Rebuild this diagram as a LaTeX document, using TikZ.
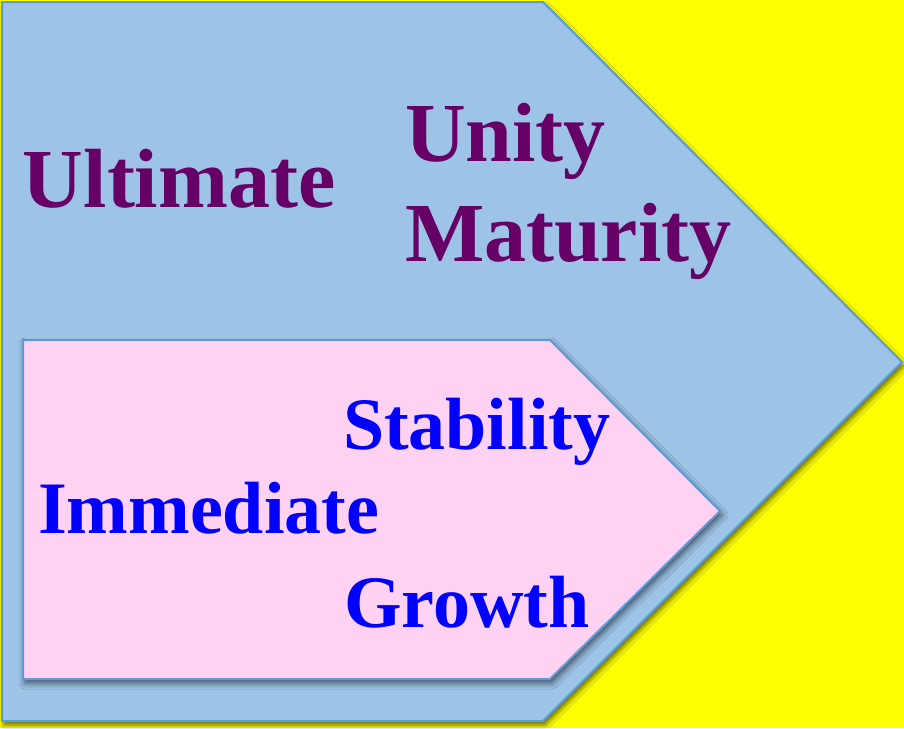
\documentclass[tikz,border=0pt]{standalone}
\usepackage{fontspec}
\setmainfont{Liberation Serif}
\usetikzlibrary{shadows.blur}
\definecolor{bgyellow}{HTML}{FFFF00}
\definecolor{outerfill}{HTML}{9DC3E6}
\definecolor{outerline}{HTML}{5B9BD5}
\definecolor{innerfill}{HTML}{FFD1F2}
\definecolor{innerline}{HTML}{5B9BD5}
\definecolor{purpletext}{HTML}{660066}
\definecolor{bluetext}{HTML}{0000FF}
\tikzset{
  outershape/.style={fill=outerfill, draw=outerline, line width=2pt, line join=miter,
    blur shadow={shadow xshift=2pt, shadow yshift=-4pt, shadow blur radius=5pt, shadow opacity=60}},
  innershape/.style={fill=innerfill, draw=innerline, line width=2pt, line join=miter,
    blur shadow={shadow xshift=2pt, shadow yshift=-4pt, shadow blur radius=6pt, shadow opacity=60}},
  bigword/.style={anchor=base west, inner sep=0pt, outer sep=0pt, text=purpletext,
    font=\fontsize{84}{90}\selectfont\bfseries},
  smallword/.style={anchor=base west, inner sep=0pt, outer sep=0pt, text=bluetext,
    font=\fontsize{74}{80}\selectfont\bfseries}
}
\begin{document}
\begin{tikzpicture}[x=1pt, y=-1pt]
\useasboundingbox (0,0) rectangle (904,728);
\fill[bgyellow] (0,0) rectangle (904,728);
\path[outershape] (2,2) -- (543,2) -- (902,362) -- (543,721) -- (2,721) -- cycle;
\path[innershape] (23,340) -- (550,340) -- (720,511) -- (550,679) -- (23,679) -- cycle;
\node[bigword] (ultimate) at (23,207) {Ultimate};
\node[bigword] (unity) at (405,161) {Unity};
\node[bigword] (maturity) at (405,261) {Maturity};
\node[smallword] (stability) at (343,449) {Stability};
\node[smallword] (immediate) at (38,533) {Immediate};
\node[smallword] (growth) at (344,627) {Growth};
\end{tikzpicture}
\end{document}
